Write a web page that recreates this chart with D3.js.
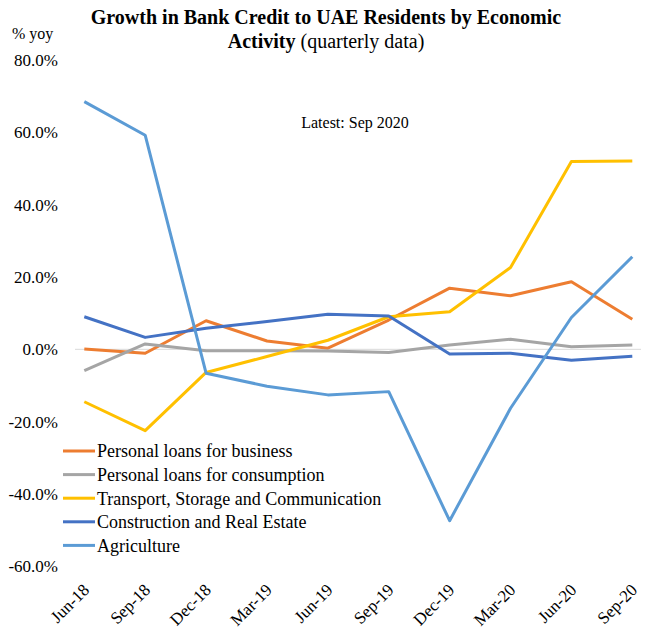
<!DOCTYPE html>
<html>
<head>
<meta charset="utf-8">
<script src="https://cdn.jsdelivr.net/npm/d3@7"></script>
<style>
    body { margin: 0; background: #fff; }
    text { font-family: "Liberation Serif", "DejaVu Serif", serif; fill: #000; }
</style>
</head>
<body>
<svg id="chart" width="646" height="641"></svg>
<script>
// quarterly categories
const quarters = ['Jun-18', 'Sep-18', 'Dec-18', 'Mar-19', 'Jun-19', 'Sep-19', 'Dec-19', 'Mar-20', 'Jun-20', 'Sep-20'];

// growth, % yoy
const personalBusiness = [0.1, -1.1, 7.9, 2.3, 0.3, 8.1, 16.9, 14.8, 18.7, 8.3];
const personalConsumption = [-5.9, 1.5, -0.4, -0.4, -0.5, -0.9, 1.2, 2.8, 0.7, 1.2];
const transport = [-14.5, -22.5, -6.4, -2.0, 2.5, 9.0, 10.4, 22.6, 51.9, 52.1];
const construction = [9.0, 3.3, 5.8, 7.7, 9.7, 9.2, -1.3, -1.1, -3.0, -1.9];
const agriculture = [68.5, 59.2, -6.6, -10.2, -12.6, -11.7, -47.4, -16.3, 8.8, 25.6];

const yTicks = [80, 60, 40, 20, 0, -20, -40, -60];

const series = [
    {name: 'Personal loans for business', values: personalBusiness, color: '#ED7D31'},
    {name: 'Personal loans for consumption', values: personalConsumption, color: '#A5A5A5'},
    {name: 'Transport, Storage and Communication', values: transport, color: '#FFC000'},
    {name: 'Construction and Real Estate', values: construction, color: '#4472C4'},
    {name: 'Agriculture', values: agriculture, color: '#5B9BD5'}
];

const svg = d3.select('#chart');

const x = d3.scalePoint()
    .domain(quarters)
    .range([84.3, 632.3]);

const y = d3.scaleLinear()
    .domain([-60, 80])
    .range([566.3, 60]);

// title
const title = svg.append('text')
    .attr('x', 326)
    .attr('text-anchor', 'middle')
    .style('font-size', '20px');
title.append('tspan')
    .attr('x', 326).attr('y', 24)
    .style('font-weight', 'bold')
    .text('Growth in Bank Credit to UAE Residents by Economic');
const line2 = title.append('tspan')
    .attr('x', 326).attr('y', 48);
line2.append('tspan').style('font-weight', 'bold').text('Activity');
line2.append('tspan').text(' (quarterly data)');

svg.append('text')
    .attr('x', 12).attr('y', 39)
    .style('font-size', '16px')
    .text('% yoy');

svg.append('text')
    .attr('x', 355).attr('y', 128)
    .attr('text-anchor', 'middle')
    .style('font-size', '16px')
    .text('Latest: Sep 2020');

// y axis labels
svg.append('g')
    .selectAll('text')
    .data(yTicks)
    .enter().append('text')
    .attr('x', 58)
    .attr('y', d => y(d))
    .attr('dy', '0.35em')
    .attr('text-anchor', 'end')
    .style('font-size', '17px')
    .text(d => d.toFixed(1) + '%');

// zero line
svg.append('line')
    .attr('x1', 75).attr('x2', 641)
    .attr('y1', y(0)).attr('y2', y(0))
    .attr('stroke', '#D9D9D9')
    .attr('stroke-width', 1);

// x axis labels
svg.append('g')
    .selectAll('text')
    .data(quarters)
    .enter().append('text')
    .attr('transform', d => `translate(${x(d) + 6},${591}) rotate(-45)`)
    .attr('text-anchor', 'end')
    .style('font-size', '17px')
    .text(d => d);

const line = d3.line()
    .x((d, i) => x(quarters[i]))
    .y(d => y(d));

svg.append('g')
    .selectAll('path')
    .data(series)
    .enter().append('path')
    .attr('fill', 'none')
    .attr('stroke', d => d.color)
    .attr('stroke-width', 3)
    .attr('stroke-linejoin', 'round')
    .attr('d', d => line(d.values));

// legend
const legend = svg.append('g');
const rows = legend.selectAll('g')
    .data(series)
    .enter().append('g')
    .attr('transform', (d, i) => `translate(63,${451 + i * 23.6})`);
rows.append('line')
    .attr('x1', 0).attr('x2', 32)
    .attr('stroke', d => d.color)
    .attr('stroke-width', 3);
rows.append('text')
    .attr('x', 34)
    .attr('dy', '0.35em')
    .style('font-size', '18px')
    .text(d => d.name);
</script>
</body>
</html>
